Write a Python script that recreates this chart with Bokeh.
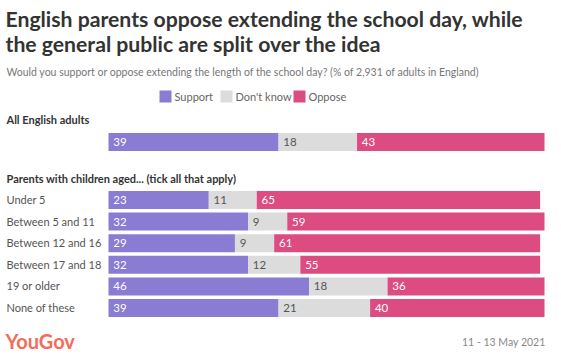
from bokeh.plotting import figure
from bokeh.models import Range1d, Label, ColumnDataSource
from bokeh.core.properties import value
from bokeh.embed import file_html
from bokeh.resources import INLINE
import numpy as np

# ---- data ----
groups = ["All English adults", "Parents with children aged... (tick all that apply)"]
categories = ["", "Under 5", "Between 5 and 11", "Between 12 and 16",
              "Between 17 and 18", "19 or older", "None of these"]
cat_group = [0, 1, 1, 1, 1, 1, 1]
support = [39, 23, 32, 29, 32, 46, 39]
dont_know = [18, 11, 9, 9, 12, 18, 21]
oppose = [43, 65, 59, 61, 55, 36, 40]
series_names = ["Support", "Don't know", "Oppose"]
colors = ["#8a7bd3", "#dcdcdc", "#dc4c80"]
label_colors = ["#ffffff", "#555555", "#ffffff"]

title1 = "English parents oppose extending the school day, while"
title2 = "the general public are split over the idea"
subtitle = "Would you support or oppose extending the length of the school day? (% of 2,931 of adults in England)"
date_text = "11 - 13 May 2021"

FONT = "Lato"
W, H = 553, 352
X0 = 108.0           # pixel where 0% sits
PXU = 4.36           # pixels per percentage point

p = figure(width=W, height=H, output_backend="svg", toolbar_location=None,
           x_range=Range1d(-X0 / PXU, (W - X0) / PXU),
           y_range=Range1d(H, 0), min_border=0)
p.axis.visible = False
p.grid.visible = False
p.outline_line_color = None
p.background_fill_color = "white"
p.border_fill_color = "white"

def px(xpix):
    return (xpix - X0) / PXU

# row layout (y in pixels from top)
row_y = []
for i, g in enumerate(cat_group):
    if i == 0:
        row_y.append(141.0)
    else:
        row_y.append(199.0 + (i - 1) * 21.6)
bar_h = 18

vals = np.array([support, dont_know, oppose], dtype=float)
rights = np.cumsum(vals, axis=0)
lefts = rights - vals

for k in range(3):
    src = ColumnDataSource(dict(y=[y + 0.5 for y in row_y], left=lefts[k], right=rights[k],
                                lab=[str(int(v)) for v in vals[k]],
                                lx=lefts[k] + 1.1))
    p.hbar(y="y", left="left", right="right", height=bar_h, source=src,
           fill_color=colors[k], line_color=None)
    p.text(x="lx", y="y", text="lab", source=src, text_color=label_colors[k],
           text_font=value(FONT), text_font_size="11.5px", text_baseline="middle",
           text_align="left")

# category labels
for c, y in zip(categories, row_y):
    if c:
        p.add_layout(Label(x=px(6), y=y, text=c, text_font=FONT, text_font_size="11px",
                           text_color="#555555", text_baseline="middle"))

# group headers
p.add_layout(Label(x=px(6), y=119, text=groups[0], text_font=FONT,
                   text_font_size="11px", text_font_style="bold", text_color="#333333",
                   text_baseline="middle"))
p.add_layout(Label(x=px(6), y=178, text=groups[1], text_font=FONT,
                   text_font_size="11px", text_font_style="bold", text_color="#333333",
                   text_baseline="middle"))

# titles
p.add_layout(Label(x=px(5), y=18, text=title1, text_font=FONT, text_font_size="21.2px",
                   text_font_style="bold", text_color="#333333", text_baseline="middle"))
p.add_layout(Label(x=px(5), y=43, text=title2, text_font=FONT, text_font_size="21.2px",
                   text_font_style="bold", text_color="#333333", text_baseline="middle"))
p.add_layout(Label(x=px(6), y=71.5, text=subtitle, text_font=FONT, text_font_size="10.5px",
                   text_color="#777777", text_baseline="middle"))

# legend
leg_x = [159, 220, 293]
for name, col, lx in zip(series_names, colors, leg_x):
    p.rect(x=[px(lx + 6)], y=[96], width=12 / PXU, height=12, fill_color=col, line_color=None)
    p.add_layout(Label(x=px(lx + 15), y=96, text=name, text_font=FONT, text_font_size="11px",
                       text_color="#666666", text_baseline="middle"))

# footer
p.add_layout(Label(x=px(5), y=340, text="YouGov", text_font=FONT, text_font_size="20px",
                   text_font_style="bold", text_color="#f26b5b", text_baseline="middle"))
p.add_layout(Label(x=px(545), y=341, text=date_text, text_font=FONT, text_font_size="10.5px",
                   text_color="#888888", text_baseline="middle", text_align="right"))

open("out.html", "w").write(file_html(p, INLINE))
